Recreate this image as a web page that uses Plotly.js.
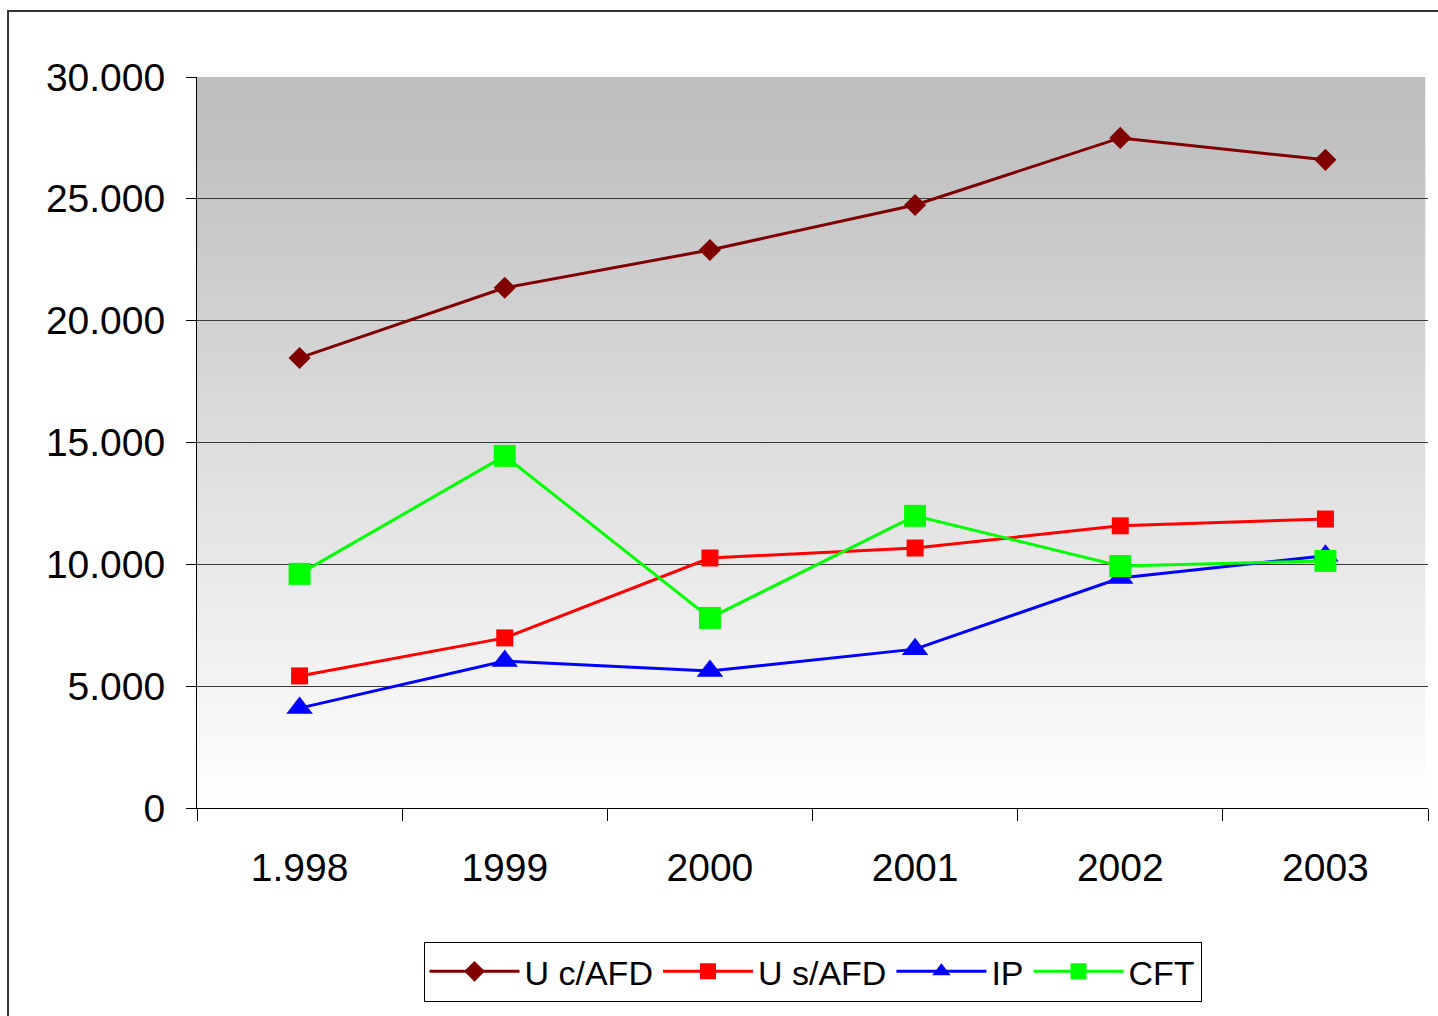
<!DOCTYPE html>
<html>
<head>
<meta charset="utf-8">
<script src="https://cdn.plot.ly/plotly-3.0.1.min.js"></script>
<style>
  html, body { margin: 0; padding: 0; background: #fff; }
  #chart { width: 1438px; height: 1016px; }
</style>
</head>
<body>
<div id="chart"></div>
<script>
// years on the category axis (first label is written with a dot in the original)
const years = ['1.998', '1999', '2000', '2001', '2002', '2003'];

// series values
const ucAfd = [18470, 21350, 22900, 24750, 27500, 26600];
const usAfd = [5420, 6980, 10260, 10670, 11580, 11860];
const ip    = [4100, 6030, 5620, 6520, 9440, 10350];
const cft   = [9610, 14450, 7800, 11990, 9930, 10140];

const yTicks = [0, 5000, 10000, 15000, 20000, 25000, 30000];

const font = 'Liberation Sans, Arial, sans-serif';

function serie(name, values, color, symbol, size) {
  return {
    x: years,
    y: values,
    name: name,
    type: 'scatter',
    mode: 'lines+markers',
    line: { color: color, width: 3 },
    marker: { symbol: symbol, size: size, color: color }
  };
}

const traces = [
  serie('U c/AFD', ucAfd, '#800000', 'diamond', 17),
  serie('U s/AFD', usAfd, '#ff0000', 'square', 17),
  serie('IP', ip, '#0000ff', 'triangle-up', 23),
  serie('CFT', cft, '#00ff00', 'square', 22)
];

// grey-to-white vertical fade behind the plot
const gradient = 'data:image/svg+xml;utf8,' + encodeURIComponent(
  '<svg xmlns="http://www.w3.org/2000/svg" width="10" height="100" preserveAspectRatio="none">' +
  '<defs><linearGradient id="g" x1="0" y1="0" x2="0" y2="1">' +
  '<stop offset="0" stop-color="#bebebe"/><stop offset="0.08" stop-color="#c0c0c0"/>' +
  '<stop offset="1" stop-color="#ffffff"/>' +
  '</linearGradient></defs><rect width="10" height="100" fill="url(#g)"/></svg>');

const layout = {
  width: 1438,
  height: 1016,
  margin: { l: 197, r: 10, t: 77, b: 208 },
  paper_bgcolor: '#ffffff',
  plot_bgcolor: 'rgba(0,0,0,0)',
  separators: ',.',
  font: { family: font, color: '#000', size: 39 },
  showlegend: true,
  legend: {
    orientation: 'h',
    x: 0.5, xanchor: 'center',
    y: -0.183, yanchor: 'top',
    bgcolor: '#ffffff',
    bordercolor: '#000',
    borderwidth: 1,
    font: { family: font, size: 34, color: '#000' },
    itemwidth: 90
  },
  xaxis: {
    type: 'category',
    tickson: 'boundaries',
    ticks: 'outside',
    ticklen: 12,
    tickcolor: '#000',
    showline: true,
    linecolor: '#000',
    linewidth: 1,
    showgrid: false,
    zeroline: false,
    ticklabelstandoff: 25,
    tickfont: { family: font, size: 39 },
    range: [-0.5, 5.5]
  },
  yaxis: {
    range: [0, 30000],
    tickvals: yTicks,
    tickformat: ',d',
    ticks: 'outside',
    ticklen: 10,
    tickcolor: '#000',
    showline: true,
    linecolor: '#000',
    linewidth: 1,
    showgrid: true,
    gridcolor: '#3a3a3a',
    gridwidth: 1,
    zeroline: false,
    ticklabelstandoff: 13,
    tickfont: { family: font, size: 39 }
  },
  images: [{
    source: gradient,
    xref: 'paper', yref: 'paper',
    x: 0, y: 1, sizex: 0.998, sizey: 1,
    xanchor: 'left', yanchor: 'top',
    sizing: 'stretch',
    layer: 'below'
  }],
  shapes: [{
    // outer chart frame, cut by the page edges
    type: 'rect',
    xref: 'paper', yref: 'paper',
    x0: -0.1535, x1: 1.05,
    y0: -0.35, y1: 1.0903,
    line: { color: '#333', width: 2 },
    fillcolor: 'rgba(0,0,0,0)',
    layer: 'above'
  }]
};

Plotly.newPlot('chart', traces, layout, { displayModeBar: false, staticPlot: true });
</script>
</body>
</html>
